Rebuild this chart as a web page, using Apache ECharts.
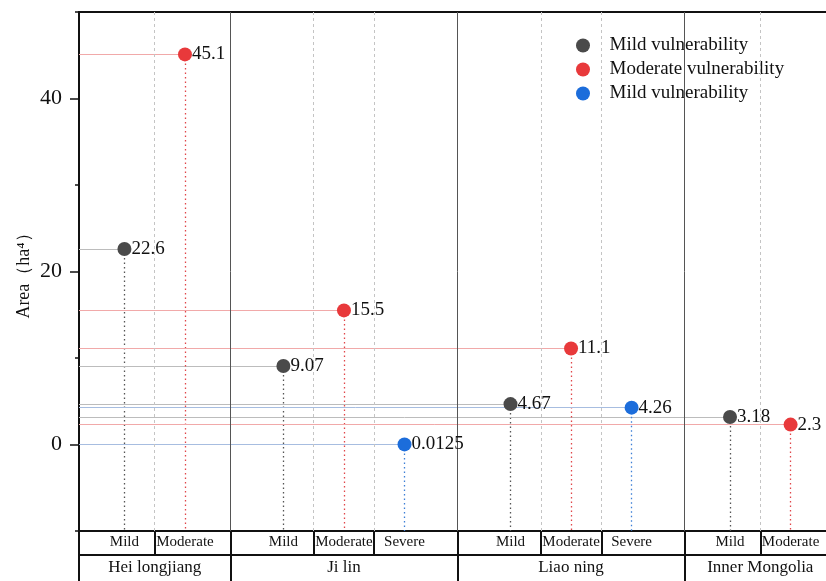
<!DOCTYPE html>
<html>
<head>
<meta charset="utf-8">
<script src="https://cdn.jsdelivr.net/npm/echarts@6/dist/echarts.min.js"></script>
<style>html,body{margin:0;padding:0;background:#fff}#c{width:826px;height:581px}</style>
</head>
<body>
<div id="c"></div>
<script>
// ---- data ----
const groups = ['Hei longjiang', 'Ji lin', 'Liao ning', 'Inner Mongolia'];
const levels = [['Mild', 'Moderate'], ['Mild', 'Moderate', 'Severe'], ['Mild', 'Moderate', 'Severe'], ['Mild', 'Moderate']];
const levelKeys = ['Mild', 'Moderate', 'Severe'];
const mildValues = [22.6, 9.07, 4.67, 3.18];
const moderateValues = [45.1, 15.5, 11.1, 2.3];
const severeValues = [null, 0.0125, 4.26, null];
const seriesNames = ['Mild vulnerability', 'Moderate vulnerability', 'Mild vulnerability'];
const yLabelTicks = [0, 20, 40];

// ---- layout helpers (derived) ----
const SPACING = 0.8;
const pos = [];
const cellBounds = [0];
const groupBounds = [0];
const groupCenters = [];
const pointPositions = [];
const pointLabels = {};
const innerBounds = [];
let start = 0;
levels.forEach((lv, g) => {
  const n = lv.length;
  const c = start + n / 2;
  const m = {};
  const ps = lv.map((name, i) => c + (i - (n - 1) / 2) * SPACING);
  lv.forEach((name, i) => { m[name] = ps[i]; pointPositions.push(ps[i]); pointLabels[ps[i].toFixed(4)] = name; });
  for (let i = 0; i < n - 1; i++) { const b = (ps[i] + ps[i + 1]) / 2; cellBounds.push(b); innerBounds.push(b); }
  groupCenters.push(c);
  start += n;
  cellBounds.push(start);
  groupBounds.push(start);
  pos.push(m);
});
const X_MAX = start;
const Y_MIN = -10, Y_MAX = 50;

const valueSets = [mildValues, moderateValues, severeValues];
const pointColors = ['#4a4a4a', '#e8393b', '#1c6ddb'];
const lightColors = ['#bcbcbc', '#f1a9a9', '#a7bde0'];
const dotColors = ['#555555', '#e0474a', '#3d7fd6'];
const SERIF = '"Liberation Serif","Times New Roman",serif';

const series = valueSets.map((vals, k) => {
  const data = [];
  const ml = [];
  vals.forEach((v, g) => {
    if (v === null || v === undefined) return;
    const x = pos[g][levelKeys[k]];
    data.push([x, v]);
    ml.push([{ coord: [0, v], lineStyle: { color: lightColors[k], width: 1, type: 'solid' } }, { coord: [x, v] }]);
    ml.push([{ coord: [x, v], lineStyle: { color: dotColors[k], width: 1.3, type: [1.5, 3] } }, { coord: [x, Y_MIN] }]);
  });
  return {
    name: seriesNames[k] + ' '.repeat(k),
    type: 'scatter',
    data: data,
    symbolSize: 14,
    itemStyle: { color: pointColors[k], opacity: 1 },
    z: 5,
    label: {
      show: true, position: 'right', distance: 0,
      formatter: p => String(p.value[1]),
      fontFamily: SERIF, fontSize: 19, color: '#111'
    },
    emphasis: { disabled: true },
    markLine: {
      silent: true, symbol: ['none', 'none'], label: { show: false }, animation: false,
      emphasis: { disabled: true },
      data: ml
    }
  };
});

const sepData = [];
groupBounds.slice(1, -1).forEach(b => sepData.push([{ coord: [b, Y_MIN], lineStyle: { color: '#555', width: 1, type: 'solid' } }, { coord: [b, Y_MAX] }]));
innerBounds.forEach(b => sepData.push([{ coord: [b, Y_MIN], lineStyle: { color: '#c4c4c4', width: 1, type: [3, 3] } }, { coord: [b, Y_MAX] }]));
series.push({
  name: 'sep', type: 'line', data: [], z: 1,
  markLine: { silent: true, symbol: ['none', 'none'], label: { show: false }, animation: false, data: sepData }
});

const chart = echarts.init(document.getElementById('c'), null, { renderer: 'canvas' });
chart.setOption({
  animation: false,
  backgroundColor: '#fff',
  grid: { left: 79, width: 757, top: 12, bottom: 50, containLabel: false, outerBoundsMode: 'none' },
  legend: {
    orient: 'vertical', left: 571, top: 31, itemGap: 5,
    data: series.slice(0, 3).map(s => s.name),
    icon: 'circle', itemWidth: 25, itemHeight: 14,
    formatter: n => n.trim(),
    textStyle: { fontFamily: SERIF, fontSize: 19, color: '#111', padding: [0, 0, 0, 9] },
    selectedMode: false
  },
  xAxis: [
    {
      type: 'value', position: 'bottom', min: 0, max: X_MAX,
      axisLine: { show: true, onZero: false, lineStyle: { color: '#111', width: 2 } },
      axisTick: { show: true, customValues: cellBounds, length: 24, inside: false, lineStyle: { color: '#111', width: 2 } },
      axisLabel: {
        customValues: pointPositions, margin: 4, fontFamily: SERIF, fontSize: 15, color: '#111',
        formatter: v => pointLabels[Number(v).toFixed(4)] || ''
      },
      splitLine: { show: false }
    },
    {
      type: 'value', position: 'bottom', offset: 24, min: 0, max: X_MAX,
      axisLine: { show: true, onZero: false, lineStyle: { color: '#111', width: 2 } },
      axisTick: { show: true, customValues: groupBounds, length: 40, inside: false, lineStyle: { color: '#111', width: 2 } },
      axisLabel: {
        customValues: groupCenters, margin: 4, fontFamily: SERIF, fontSize: 17, color: '#111',
        formatter: v => { const i = groupCenters.findIndex(c => Math.abs(c - v) < 1e-6); return i >= 0 ? groups[i] : ''; }
      },
      splitLine: { show: false }
    },
    {
      type: 'value', position: 'top', min: 0, max: X_MAX,
      axisLine: { show: true, onZero: false, lineStyle: { color: '#111', width: 2 } },
      axisTick: { show: false }, axisLabel: { show: false }, splitLine: { show: false }
    }
  ],
  yAxis: [
    {
      type: 'value', position: 'left', min: Y_MIN, max: Y_MAX, interval: 10,
      axisLine: { show: true, onZero: false, lineStyle: { color: '#111', width: 2 } },
      axisTick: { show: true, length: 4, lineStyle: { color: '#111', width: 1.5 } },
      axisLabel: { show: false },
      splitLine: { show: false }
    },
    {
      type: 'value', position: 'left', min: Y_MIN, max: Y_MAX,
      name: 'Area（ha⁴）', nameLocation: 'middle', nameGap: 46, nameMoveOverlap: false,
      nameTextStyle: { fontFamily: SERIF, fontSize: 18, color: '#111' },
      axisLine: { show: false },
      axisTick: { show: true, customValues: yLabelTicks, length: 9, lineStyle: { color: '#111', width: 1.5 } },
      axisLabel: { customValues: yLabelTicks, margin: 17, fontFamily: SERIF, fontSize: 22, color: '#111' },
      splitLine: { show: false }
    }
  ],
  series: series
});
</script>
</body>
</html>
